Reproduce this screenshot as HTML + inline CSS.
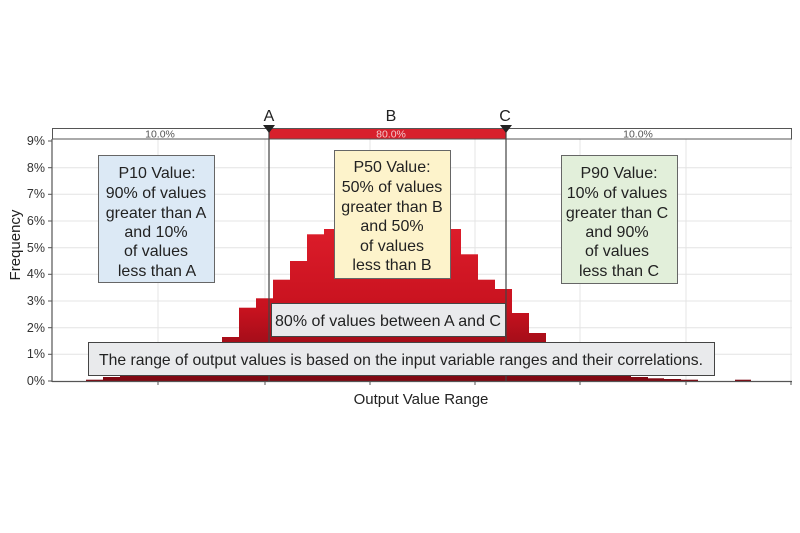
<!DOCTYPE html>
<html><head><meta charset="utf-8"><style>
body{margin:0;background:#fff;}
svg{display:block;font-family:"Liberation Sans",Arial,sans-serif;}
</style></head><body>
<svg width="800" height="533" viewBox="0 0 800 533" xmlns="http://www.w3.org/2000/svg">
<defs>
<linearGradient id="g" gradientUnits="userSpaceOnUse" x1="0" y1="200" x2="0" y2="381">
<stop offset="0" stop-color="#e3202e"/><stop offset="0.6" stop-color="#c8121f"/><stop offset="1" stop-color="#7e0812"/>
</linearGradient>
</defs>
<rect width="800" height="533" fill="#fff"/>
<g stroke="#e4e4e4" stroke-width="1">
<line x1="52" x2="792" y1="354.3" y2="354.3"/><line x1="52" x2="792" y1="327.7" y2="327.7"/>
<line x1="52" x2="792" y1="301" y2="301"/><line x1="52" x2="792" y1="274.3" y2="274.3"/>
<line x1="52" x2="792" y1="247.7" y2="247.7"/><line x1="52" x2="792" y1="221" y2="221"/>
<line x1="52" x2="792" y1="194.3" y2="194.3"/><line x1="52" x2="792" y1="167.7" y2="167.7"/>
<line x1="158" x2="158" y1="139" y2="381"/><line x1="265" x2="265" y1="139" y2="381"/>
<line x1="370" x2="370" y1="139" y2="381"/><line x1="475" x2="475" y1="139" y2="381"/>
<line x1="580" x2="580" y1="139" y2="381"/><line x1="686" x2="686" y1="139" y2="381"/>
<line x1="791" x2="791" y1="139" y2="381"/>
</g>
<g fill="url(#g)">
<rect x="86" y="379.7" width="17" height="1.3"/><rect x="103" y="377" width="17" height="4"/>
<rect x="120" y="375.7" width="17" height="5.3"/><rect x="137" y="374.3" width="17" height="6.7"/>
<rect x="154" y="371.7" width="17" height="9.3"/><rect x="171" y="367.7" width="17" height="13.3"/>
<rect x="188" y="362.3" width="17" height="18.7"/><rect x="205" y="349" width="18" height="32"/>
<rect x="222" y="337" width="18" height="44"/><rect x="239" y="307.7" width="18" height="73.3"/>
<rect x="256" y="298.3" width="18" height="82.7"/><rect x="273" y="279.7" width="18" height="101.3"/>
<rect x="290" y="261" width="18" height="120"/><rect x="307" y="234.3" width="18" height="146.7"/>
<rect x="324" y="229" width="18" height="152"/><rect x="341" y="221" width="18" height="160"/>
<rect x="358" y="213" width="18" height="168"/><rect x="375" y="207.7" width="18" height="173.3"/>
<rect x="392" y="207.7" width="18" height="173.3"/><rect x="409" y="213" width="18" height="168"/>
<rect x="426" y="221" width="18" height="160"/><rect x="443" y="229" width="18" height="152"/>
<rect x="460" y="254.3" width="18" height="126.7"/><rect x="477" y="279.7" width="18" height="101.3"/>
<rect x="494" y="289" width="18" height="92"/><rect x="511" y="313" width="18" height="68"/>
<rect x="528" y="333" width="18" height="48"/><rect x="545" y="349" width="18" height="32"/>
<rect x="562" y="359.7" width="18" height="21.3"/><rect x="579" y="367.7" width="18" height="13.3"/>
<rect x="596" y="371.7" width="18" height="9.3"/><rect x="613" y="374.3" width="18" height="6.7"/>
<rect x="630" y="377" width="18" height="4"/><rect x="647" y="378.3" width="17" height="2.7"/>
<rect x="664" y="379" width="17" height="2"/><rect x="681" y="379.7" width="17" height="1.3"/>
<rect x="735" y="379.7" width="16" height="1.3"/>
</g>
<line x1="52" x2="52" y1="139" y2="382" stroke="#555" stroke-width="1.2"/>
<line x1="52" x2="792" y1="381.5" y2="381.5" stroke="#555" stroke-width="1.2"/>
<g stroke="#555"><line x1="48" x2="52" y1="141" y2="141"/><line x1="48" x2="52" y1="167.7" y2="167.7"/><line x1="48" x2="52" y1="194.3" y2="194.3"/><line x1="48" x2="52" y1="221" y2="221"/><line x1="48" x2="52" y1="247.7" y2="247.7"/><line x1="48" x2="52" y1="274.3" y2="274.3"/><line x1="48" x2="52" y1="301" y2="301"/><line x1="48" x2="52" y1="327.7" y2="327.7"/><line x1="48" x2="52" y1="354.3" y2="354.3"/><line x1="48" x2="52" y1="381" y2="381"/>
<line x1="158" x2="158" y1="381" y2="385"/><line x1="265" x2="265" y1="381" y2="385"/><line x1="370" x2="370" y1="381" y2="385"/><line x1="475" x2="475" y1="381" y2="385"/><line x1="580" x2="580" y1="381" y2="385"/><line x1="686" x2="686" y1="381" y2="385"/><line x1="791" x2="791" y1="381" y2="385"/></g>
<g font-size="12.5" fill="#333" text-anchor="end">
<text x="45" y="145">9%</text><text x="45" y="172">8%</text><text x="45" y="198">7%</text><text x="45" y="225">6%</text><text x="45" y="252">5%</text><text x="45" y="278">4%</text><text x="45" y="305">3%</text><text x="45" y="332">2%</text><text x="45" y="358">1%</text><text x="45" y="385">0%</text>
</g>
<text transform="translate(20,245) rotate(-90)" text-anchor="middle" font-size="15" fill="#222">Frequency</text>
<text x="421" y="404" text-anchor="middle" font-size="15" fill="#222">Output Value Range</text>
<rect x="52.5" y="128.5" width="739" height="10.5" fill="#fff" stroke="#555"/>
<rect x="269" y="128.5" width="237" height="10.5" fill="#d8202c" stroke="#555"/>
<g font-size="10.5" text-anchor="middle"><text x="160" y="137.5" fill="#555">10.0%</text><text x="391" y="137.5" fill="#f3c9cc">80.0%</text><text x="638" y="137.5" fill="#555">10.0%</text></g>
<line x1="269" x2="269" y1="128" y2="381" stroke="#444" stroke-width="1.2"/>
<line x1="506" x2="506" y1="128" y2="381" stroke="#444" stroke-width="1.2"/>
<polygon points="263,125 275,125 269,133" fill="#222"/><polygon points="500,125 512,125 506,133" fill="#222"/>
<g font-size="16" text-anchor="middle" fill="#222"><text x="269" y="121">A</text><text x="391" y="121">B</text><text x="505" y="121">C</text></g>
<g font-size="16" text-anchor="middle" fill="#222">
<rect x="98.5" y="155.5" width="116" height="127" fill="#dce9f5" stroke="#666"/>
<text x="157" y="178">P10 Value:</text><text x="156" y="198">90% of values</text><text x="156" y="218">greater than A</text><text x="156" y="237">and 10%</text><text x="156" y="256">of values</text><text x="157" y="276">less than A</text>
<rect x="334.5" y="150.5" width="116" height="128" fill="#fdf3cb" stroke="#666"/>
<text x="392" y="172">P50 Value:</text><text x="392" y="192">50% of values</text><text x="392" y="212">greater than B</text><text x="392" y="231">and 50%</text><text x="392" y="251">of values</text><text x="392" y="270">less than B</text>
<rect x="561.5" y="155.5" width="116" height="128" fill="#e2efda" stroke="#666"/>
<text x="619" y="178">P90 Value:</text><text x="617" y="198">10% of values</text><text x="617" y="218">greater than C</text><text x="617" y="237">and 90%</text><text x="617" y="256">of values</text><text x="619" y="276">less than C</text>
<rect x="271.5" y="303.5" width="234" height="33" fill="#e9eaec" stroke="#444"/>
<text x="388" y="326">80% of values between A and C</text>
<rect x="88.5" y="342.5" width="626" height="33" fill="#e9eaec" stroke="#444"/>
<text x="401" y="365" textLength="604" lengthAdjust="spacingAndGlyphs">The range of output values is based on the input variable ranges and their correlations.</text>
</g>
</svg>
</body></html>
